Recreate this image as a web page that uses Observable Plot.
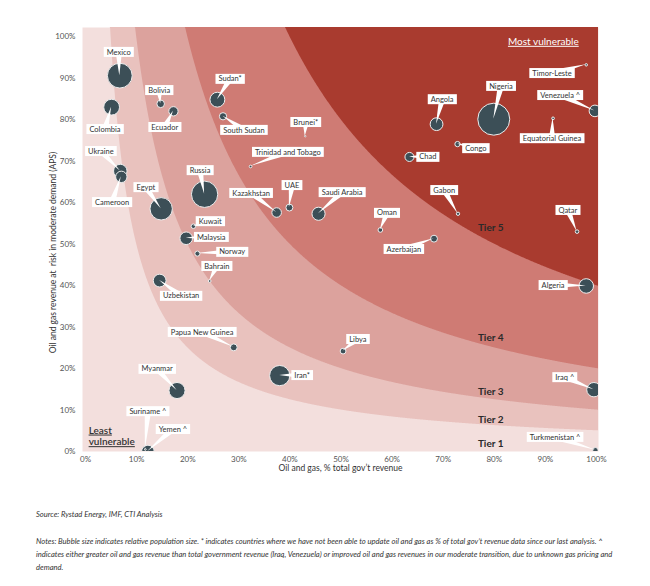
<!DOCTYPE html>
<html><head><meta charset="utf-8">
<script src="https://cdn.jsdelivr.net/npm/d3@7"></script>
<script src="https://cdn.jsdelivr.net/npm/@observablehq/plot@0.6"></script>
<style>
body{margin:0;background:#fff;font-family:Lato,"Open Sans",sans-serif;}
#chart{position:absolute;left:0;top:0;}
.src{position:absolute;left:36px;top:509px;font-size:7.6px;font-style:italic;color:#333;white-space:nowrap;}
.notes{position:absolute;left:36px;top:535px;font-size:7.6px;font-style:italic;color:#333;line-height:12.8px;white-space:nowrap;}
</style></head><body>
<div id="chart"></div>
<div class="src">Source: Rystad Energy, IMF, CTI Analysis</div>
<div class="notes">Notes: Bubble size indicates relative population size. * indicates countries where we have not been able to update oil and gas as % of total gov’t revenue data since our last analysis. ^<br>indicates either greater oil and gas revenue than total government revenue (Iraq, Venezuela) or improved oil and gas revenues in our moderate transition, due to unknown gas pricing and<br>demand.</div>
<script>
// ---- data ----
const countries = ["Mexico","Colombia","Bolivia","Ecuador","Sudan*","South Sudan","Brunei*","Trinidad and Tobago","Ukraine","Cameroon","Russia","Egypt","Kazakhstan","UAE","Saudi Arabia","Kuwait","Malaysia","Norway","Bahrain","Uzbekistan","Papua New Guinea","Iran*","Myanmar","Suriname ^","Yemen ^","Timor-Leste","Venezuela ^","Equatorial Guinea","Nigeria","Angola","Congo","Chad","Gabon","Qatar","Oman","Azerbaijan","Algeria","Libya","Iraq ^","Turkmenistan ^"];
// Oil and gas, % total gov't revenue
const revenueShare = [6.7,5.1,14.7,17.2,25.8,26.9,43,32.3,6.8,7.0,23.3,14.8,37.4,39.9,45.6,21.1,19.7,21.9,24.3,14.5,29,38,17.9,11.7,12.2,98,99.7,91.5,79.9,68.7,72.8,63.4,72.9,96.2,57.7,68.2,98,50.4,99.5,99.8];
// Oil and gas revenue at risk in moderate demand (APS), %
const atRisk = [90.6,83,83.8,82,84.8,80.8,76,68.7,67.6,66.2,62,58.5,57.6,58.8,57.3,54.3,51.4,47.7,41.1,41.2,25.1,18.3,14.7,0.5,0,93.2,82.1,80.3,80.1,78.9,74.1,71,57.3,53,53.4,51.3,39.9,24.2,14.9,0.3];
// population, millions (bubble size)
const population = [128,52,12,18,46,11,0.45,1.5,38,27,144,104,19,10,36,4.3,33,5.4,1.5,34,9.9,85,54,0.6,33,1.3,28,1.6,213,34,5.8,17,2.3,2.7,4.5,10,44,6.9,43,6.1];
// label anchor positions, in data units
const labelX = [6.6,3.9,14.5,15.6,28.4,31.1,43.2,39.7,3.1,5.3,22.5,11.9,32.5,40.5,50.3,24.5,24.7,28.8,25.8,18.8,22.9,42.5,14.1,12.3,17.2,91.4,93.0,91.4,81.4,69.9,76.5,67.1,70.3,94.5,59.1,62.4,91.6,53.4,93.9,92.0];
const labelY = [96.2,77.6,87.0,78.1,89.7,77.4,79.3,72.1,72.3,60.0,67.7,63.6,62.2,64.1,62.4,55.4,51.6,48.0,44.6,37.4,28.7,18.3,19.8,9.6,5.3,91.1,85.8,75.4,88.0,84.8,73.0,70.9,62.9,58.1,57.4,48.7,40.0,27.0,17.8,3.4];
// tiers: share of total government revenue at risk (x * y), %
const tierThresholds = [5, 10, 20, 40];
const tierNames = ["Tier 1","Tier 2","Tier 3","Tier 4","Tier 5"];
const tierLabelX = [79.3,79.3,79.3,79.3,79.3];
const tierLabelY = [1.9,7.7,14.5,27.5,54.0];
const tierColors = ["#f3dfdd","#e9c2be","#dca29d","#cf7b74","#a93b2f"];
const xTicks = [0,10,20,30,40,50,60,70,80,90,100];
const yTicks = [0,10,20,30,40,50,60,70,80,90,100];

const X0 = -0.6, X1 = 100.4, YTOP = 102.2;
const xs = d3.range(X0, X1 + 0.05, 0.1);
const idx = d3.range(countries.length);

const plot = Plot.plot({
  width: 650, height: 490,
  marginLeft: 82, marginRight: 52, marginTop: 27, marginBottom: 39,
  x: {domain: [X0, X1]},
  y: {domain: [0, YTOP]},
  r: {type: "sqrt", domain: [0, 213], range: [0, 16]},
  style: {fontFamily: "Lato, 'Open Sans', sans-serif", fontSize: "8px", color: "#555", background: "transparent"},
  marks: [
    Plot.frame({fill: tierColors[0], stroke: "none"}),
    ...tierThresholds.map((t, i) => Plot.areaY(xs, {
      x: d => d,
      y1: d => d <= 0 ? YTOP : Math.min(YTOP, 100 * t / d),
      y2: YTOP,
      fill: tierColors[i + 1],
      curve: "linear"
    })),
    Plot.text(tierNames, {x: (d, i) => tierLabelX[i], y: (d, i) => tierLabelY[i], text: d => d, fontSize: 10, fontWeight: "bold", fill: "#2a2a2a"}),
    Plot.text(["Most vulnerable"], {x: 89.6, y: 98.8, text: d => d, fontSize: 10, fill: "#fff"}),
    Plot.text(["Least", "vulnerable"], {x: 0.6, y: (d, i) => [5.1, 2.3][i], text: d => d, textAnchor: "start", fontSize: 10, fontWeight: 600, fill: "#333"}),
    Plot.dot(idx, {
      x: i => revenueShare[i], y: i => atRisk[i], r: i => population[i],
      fill: "#3c4f57", stroke: "#eeeeee", strokeWidth: 1, clip: true
    }),
    Plot.axisX({ticks: xTicks, tickSize: 0, tickPadding: 5, tickFormat: d => d + "%", label: null}),
    Plot.axisY({ticks: yTicks, tickSize: 0, tickPadding: 7, tickFormat: d => d + "%", label: null}),
    Plot.text(["Oil and gas, % total gov’t revenue"], {frameAnchor: "bottom", lineAnchor: "middle", textAnchor: "middle", dy: 17, fontSize: 8.5, fill: "#333"}),
    Plot.text(["Oil and gas revenue at  risk in moderate demand (APS)"], {frameAnchor: "left", textAnchor: "middle", lineAnchor: "middle", dx: -29, dy: 13, rotate: -90, fontSize: 8.5, fill: "#333"})
  ]
});

document.getElementById("chart").appendChild(plot);

const svg = d3.select(plot);
// underline the corner annotations
svg.selectAll("text").filter(function () {
  return ["Most vulnerable", "Least", "vulnerable"].includes(this.textContent);
}).style("text-decoration", "underline");

// callout wedges and label boxes, positioned via the plot's scales
const sx = plot.scale("x"), sy = plot.scale("y");
const gW = svg.append("g");
const gL = svg.append("g").attr("font-family", "Lato, 'Open Sans', sans-serif").attr("font-size", 7.5);
idx.forEach(i => {
  const px = sx.apply(revenueShare[i]), py = sy.apply(atRisk[i]);
  const lx = sx.apply(labelX[i]), ly = sy.apply(labelY[i]);
  const dx = px - lx, dy = py - ly, len = Math.hypot(dx, dy) || 1;
  const nx = -dy / len * 3.2, ny = dx / len * 3.2;
  gW.append("path")
    .attr("d", `M${lx + nx},${ly + ny}L${px},${py}L${lx - nx},${ly - ny}Z`)
    .attr("fill", "#fff");
  const g = gL.append("g");
  const rect = g.append("rect").attr("fill", "#fff");
  const t = g.append("text").attr("x", lx).attr("y", ly).attr("dy", "0.35em")
    .attr("text-anchor", "middle").attr("fill", "#333").text(countries[i]);
  const bb = t.node().getBBox();
  rect.attr("x", bb.x - 3).attr("y", ly - 5).attr("width", bb.width + 6).attr("height", 10);
});
</script>
</body></html>
